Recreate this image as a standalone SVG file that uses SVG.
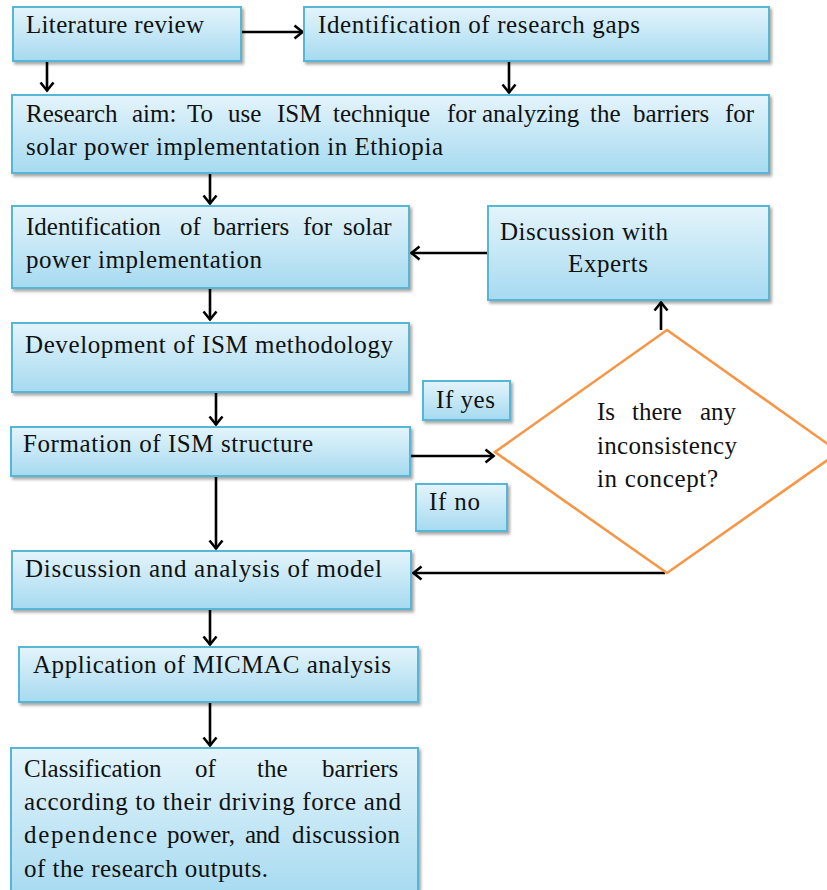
<svg xmlns="http://www.w3.org/2000/svg" width="827" height="890" viewBox="0 0 827 890">
<style>
.box{fill:url(#g);stroke:#55b6d6;stroke-width:2;filter:url(#sh)}
.t{font-family:'Liberation Serif','Times New Roman',serif;font-size:25px;fill:#111}
.c{stroke:#000;stroke-width:2.6;fill:none;marker-end:url(#ah)}
</style>
<defs>
<linearGradient id="g" x1="0" y1="0" x2="0" y2="1">
<stop offset="0" stop-color="#e4f4fb"/>
<stop offset="1" stop-color="#a6daf0"/>
</linearGradient>
<filter id="sh" x="-5%" y="-10%" width="112%" height="130%">
<feDropShadow dx="2" dy="2.5" stdDeviation="1.5" flood-color="#000" flood-opacity="0.35"/>
</filter>
<marker id="ah" markerUnits="userSpaceOnUse" viewBox="0 0 12 16" refX="10.5" refY="8" markerWidth="12" markerHeight="16" orient="auto">
<path d="M2,1.5 L10,8 L2,14.5" fill="none" stroke="#000" stroke-width="2.6"/>
</marker>
</defs>
<rect width="827" height="890" fill="#fff"/>

<g id="connectors">
<path class="c" d="M241,32 L303,32"/>
<path class="c" d="M47,61 L47,91"/>
<path class="c" d="M509,61 L509,93"/>
<path class="c" d="M210,173 L210,204"/>
<path class="c" d="M488,253 L411,253"/>
<path class="c" d="M210,288 L210,320"/>
<path class="c" d="M216,392 L216,425"/>
<path class="c" d="M410,456 L494,456"/>
<path class="c" d="M661,330 L661,302"/>
<path class="c" d="M216,476 L216,549"/>
<path class="c" d="M665,573 L413,573"/>
<path class="c" d="M210,609 L210,645"/>
<path class="c" d="M210,702 L210,746"/>
</g>

<g id="literature-review">
<rect class="box" x="13" y="7" width="228" height="54"/>
<text class="t" x="26" y="33" textLength="178">Literature review</text>
</g>

<g id="research-gaps">
<rect class="box" x="304" y="7" width="465" height="54"/>
<text class="t" x="318" y="33" textLength="322">Identification of research gaps</text>
</g>

<g id="research-aim">
<rect class="box" x="12" y="95" width="757" height="78"/>
<text class="t" y="122"><tspan x="26">Research</tspan><tspan x="132">aim:</tspan><tspan x="187">To</tspan><tspan x="228">use</tspan><tspan x="277">ISM</tspan><tspan x="333">technique</tspan><tspan x="447">for</tspan><tspan x="482">analyzing</tspan><tspan x="590">the</tspan><tspan x="633">barriers</tspan><tspan x="725">for</tspan></text>
<text class="t" x="26" y="155" textLength="417">solar power implementation in Ethiopia</text>
</g>

<g id="identification-barriers">
<rect class="box" x="12" y="206" width="397" height="82"/>
<text class="t" y="235"><tspan x="26">Identification</tspan><tspan x="180">of</tspan><tspan x="213">barriers</tspan><tspan x="303">for</tspan><tspan x="343">solar</tspan></text>
<text class="t" x="26" y="268" textLength="236">power implementation</text>
</g>

<g id="experts">
<rect class="box" x="488" y="206" width="281" height="94"/>
<text class="t" x="500" y="240" textLength="168">Discussion with</text>
<text class="t" x="568" y="272" textLength="80">Experts</text>
</g>

<g id="development">
<rect class="box" x="12" y="323" width="397" height="69"/>
<text class="t" x="25" y="353" textLength="368">Development of ISM methodology</text>
</g>

<g id="if-yes">
<rect class="box" x="423" y="381" width="87" height="39"/>
<text class="t" x="436" y="408" textLength="59">If yes</text>
</g>

<g id="decision">
<polygon points="667,330 839,452 667,573 495,452" fill="#fff" stroke="#f79646" stroke-width="2.6"/>
<text class="t" y="420"><tspan x="597">Is</tspan><tspan x="632">there</tspan><tspan x="700">any</tspan></text>
<text class="t" x="597" y="454" textLength="140">inconsistency</text>
<text class="t" x="597" y="487" textLength="121">in concept?</text>
</g>

<g id="formation">
<rect class="box" x="11" y="427" width="399" height="49"/>
<text class="t" x="23" y="452" textLength="290">Formation of ISM structure</text>
</g>

<g id="if-no">
<rect class="box" x="416" y="484" width="91" height="47"/>
<text class="t" x="429" y="510" textLength="51">If no</text>
</g>

<g id="discussion-analysis">
<rect class="box" x="12" y="551" width="399" height="58"/>
<text class="t" x="25" y="577" textLength="357">Discussion and analysis of model</text>
</g>

<g id="micmac">
<rect class="box" x="19" y="647" width="399" height="55"/>
<text class="t" x="33" y="673" textLength="358">Application of MICMAC analysis</text>
</g>

<g id="classification">
<rect class="box" x="11" y="748" width="407" height="150"/>
<text class="t" y="777"><tspan x="24">Classification</tspan><tspan x="195">of</tspan><tspan x="257">the</tspan><tspan x="322">barriers</tspan></text>
<text class="t" x="24" y="810" textLength="377">according to their driving force and</text>
<text class="t" y="843"><tspan x="24" textLength="133">dependence</tspan><tspan x="167" textLength="68">power,</tspan><tspan x="245" textLength="35">and</tspan><tspan x="292" textLength="108">discussion</tspan></text>
<text class="t" x="24" y="877" textLength="244">of the research outputs.</text>
</g>
</svg>
